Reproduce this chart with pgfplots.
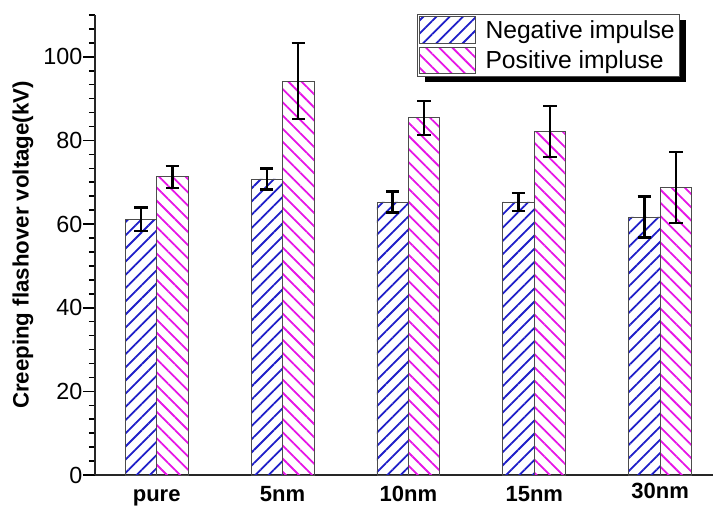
\documentclass[border=0pt]{standalone}
\usepackage{pgfplots}
\pgfplotsset{compat=1.18}
\usepackage{fontspec}
\setmainfont{Liberation Sans}
\usetikzlibrary{patterns.meta,backgrounds,calc}
\definecolor{negblue}{RGB}{30,30,200}
\definecolor{posmag}{RGB}{230,20,230}
\begin{document}
\begin{tikzpicture}
\begin{axis}[
  at={(0,0)}, anchor=south west,
  scale only axis, width=463.5pt, height=345pt,
  xmin=-0.49, xmax=4.42, ymin=0, ymax=110,
  axis x line=bottom, axis y line=left,
  axis line style={-, line width=1.4pt, black!85},
  xtick={0,1,2,3,4},
  xticklabels={pure,5nm,\raisebox{-0.4pt}{10nm},\raisebox{-0.3pt}{15nm},\raisebox{2.25pt}{30nm}},
  xtick style={draw=none},
  xticklabel style={font=\fontsize{16.5}{18}\selectfont\bfseries, anchor=north, text height=11.8pt, yshift=4.8pt},
  ytick={0,20,40,60,80,100},
  minor ytick={3.333,6.667,10,13.333,16.667,23.333,26.667,30,33.333,36.667,43.333,46.667,50,53.333,56.667,63.333,66.667,70,73.333,76.667,83.333,86.667,90,93.333,96.667,103.333,106.667,110},
  tick align=outside,
  major tick length=9pt, minor tick length=4.5pt,
  every tick/.style={black, line width=1.2pt},
  yticklabel style={font=\fontsize{17.5}{19}\selectfont, xshift=3pt},
  /pgf/number format/assume math mode=true,
  ylabel={Creeping flashover voltage(kV)},
  every axis y label/.style={at={(axis description cs:-0.1165,0.5)}, rotate=90, anchor=center, font=\fontsize{16.7}{18}\selectfont\bfseries},
  clip=false,
  legend style={at={(rel axis cs:0.521,1.002)}, anchor=north west, name=leg,
    draw=black!70, line width=0.6pt, fill=white,
    font=\fontsize{18.5}{20}\selectfont, inner sep=1.5pt, row sep=2pt,
    legend cell align=left},
  legend image code/.code={\draw[#1, line width=0.6pt] (0pt,-10pt) rectangle (42pt,10pt);},
  error bars/error bar style={line width=1.8pt, black},
  error bars/error mark options={rotate=90, mark size=5pt, line width=1.8pt, black},
]
\addplot[ybar, bar width=0.25, bar shift=0, draw=black!70, line width=0.6pt,
  pattern={Lines[angle=45, distance=7pt, line width=1.35pt]}, pattern color=negblue,
  error bars/.cd, y dir=both, y explicit]
  table[x=x, y=v, y error=e] {
x v e
-0.125 61.2 2.8
0.875 70.8 2.5
1.875 65.3 2.5
2.875 65.3 2.1
3.875 61.7 4.9
};
\addlegendentry{\hspace{5pt}Negative impulse}
\addplot[ybar, bar width=0.25, bar shift=0, draw=black!70, line width=0.6pt,
  pattern={Lines[angle=-45, distance=7pt, line width=1.35pt]}, pattern color=posmag,
  error bars/.cd, y dir=both, y explicit]
  table[x=x, y=v, y error=e] {
x v e
0.125 71.3 2.6
1.125 94.2 9.1
2.125 85.4 4.1
3.125 82.1 6.1
4.125 68.7 8.5
};
\addlegendentry{\hspace{5pt}Positive impluse}
\end{axis}
\begin{scope}[on background layer]
\fill[black] ($(leg.south west)+(6pt,-4.5pt)$) rectangle ($(leg.north east)+(4.5pt,-4.5pt)$);
\end{scope}
\pgfresetboundingbox
\useasboundingbox (-71.25pt,-23.25pt) rectangle (463.5pt,356.25pt);
\end{tikzpicture}
\end{document}
